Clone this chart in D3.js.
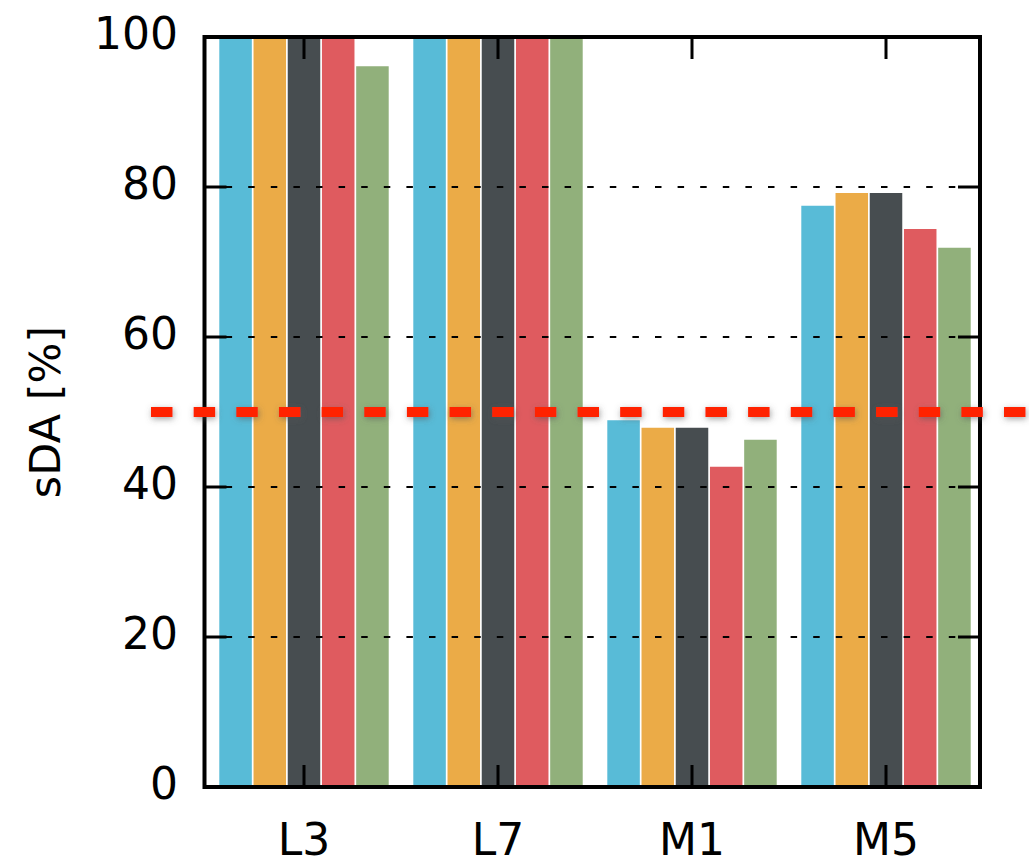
<!DOCTYPE html>
<html>
<head>
<meta charset="utf-8">
<script src="https://cdn.jsdelivr.net/npm/d3@7"></script>
<style>
  html, body { margin: 0; padding: 0; background: #fff; }
  svg { display: block; font-family: "DejaVu Sans", sans-serif; }
</style>
</head>
<body>
<svg id="chart" width="1029" height="863"></svg>
<script>
// Categories, series and values (sDA in percent)
const categories = ["L3", "L7", "M1", "M5"];
const seriesNames = ["s1", "s2", "s3", "s4", "s5"];
const seriesColors = ["#58bbd7", "#ebab47", "#474d50", "#df5b5f", "#91b07b"];
const valuesL3 = [100, 100, 100, 100, 96.1];
const valuesL7 = [100, 100, 100, 100, 100];
const valuesM1 = [48.9, 47.9, 47.9, 42.7, 46.3];
const valuesM5 = [77.5, 79.2, 79.2, 74.4, 71.9];
const yTicks = [0, 20, 40, 60, 80, 100];
const threshold = 50;
const yLabel = "sDA [%]";

const rows = [valuesL3, valuesL7, valuesM1, valuesM5].map((vals, i) => ({
  category: categories[i],
  values: vals.map((v, k) => ({ series: seriesNames[k], value: v, color: seriesColors[k] }))
}));

const svg = d3.select("#chart");
const W = 1029, H = 863;
svg.append("rect").attr("width", W).attr("height", H).attr("fill", "#fff");

// Plot frame
const plot = { left: 204.5, right: 980, top: 37, bottom: 787 };

const y = d3.scaleLinear().domain([0, 100]).range([plot.bottom, plot.top]);
const x0 = d3.scaleBand().domain(categories)
  .range([plot.left + 2.5, plot.right + 3])
  .paddingInner(0.118).paddingOuter(0.059);
const x1 = d3.scaleBand().domain(seriesNames).range([0, x0.bandwidth()]);

// Soft grey shadow for the threshold line (user-space region: the line has no height)
const defs = svg.append("defs");
const shadow = defs.append("filter").attr("id", "glow")
  .attr("filterUnits", "userSpaceOnUse")
  .attr("x", 0).attr("y", 0).attr("width", W).attr("height", H);
shadow.append("feDropShadow")
  .attr("dx", 1).attr("dy", 2).attr("stdDeviation", 3)
  .attr("flood-color", "#555").attr("flood-opacity", 0.55);

// Bars
const gap = 1.7;
const groups = svg.append("g").selectAll("g").data(rows).join("g")
  .attr("transform", d => `translate(${x0(d.category)},0)`);
groups.selectAll("rect").data(d => d.values).join("rect")
  .attr("x", d => x1(d.series) + gap / 2)
  .attr("width", x1.bandwidth() - gap)
  .attr("y", d => y(d.value))
  .attr("height", d => y(0) - y(d.value))
  .attr("fill", d => d.color);

// Dotted grid lines, drawn over the bars
svg.append("g").selectAll("line").data(yTicks.filter(t => t > 0 && t < 100)).join("line")
  .attr("x1", plot.left).attr("x2", plot.right)
  .attr("y1", d => y(d)).attr("y2", d => y(d))
  .attr("stroke", "#000").attr("stroke-width", 2)
  .attr("stroke-dasharray", "6.5,16.1")
  .attr("stroke-dashoffset", 1.5);

// Inward tick marks on all four sides
const tickLen = 22;
const ticks = svg.append("g").attr("stroke", "#000").attr("stroke-width", 3);
yTicks.forEach(t => {
  ticks.append("line").attr("x1", plot.left).attr("x2", plot.left + tickLen)
    .attr("y1", y(t)).attr("y2", y(t));
  ticks.append("line").attr("x1", plot.right).attr("x2", plot.right - tickLen)
    .attr("y1", y(t)).attr("y2", y(t));
});
categories.forEach(c => {
  const cx = x0(c) + x0.bandwidth() / 2;
  ticks.append("line").attr("x1", cx).attr("x2", cx)
    .attr("y1", plot.bottom).attr("y2", plot.bottom - tickLen);
  ticks.append("line").attr("x1", cx).attr("x2", cx)
    .attr("y1", plot.top).attr("y2", plot.top + tickLen);
});

// Frame
svg.append("rect")
  .attr("x", plot.left).attr("y", plot.top)
  .attr("width", plot.right - plot.left).attr("height", plot.bottom - plot.top)
  .attr("fill", "none").attr("stroke", "#000").attr("stroke-width", 4);

// Threshold line at 50 %
svg.append("line")
  .attr("x1", plot.left - 53.5).attr("x2", W + 10)
  .attr("y1", y(threshold)).attr("y2", y(threshold))
  .attr("stroke", "#ff2200").attr("stroke-width", 10)
  .attr("stroke-dasharray", "21.5,21.15")
  .attr("filter", "url(#glow)");

// Y tick labels
svg.append("g").selectAll("text").data(yTicks).join("text")
  .attr("x", 178).attr("y", d => y(d) + 12)
  .attr("text-anchor", "end")
  .attr("font-size", 44).attr("fill", "#000")
  .text(d => d);

// X tick labels
svg.append("g").selectAll("text").data(categories).join("text")
  .attr("x", d => x0(d) + x0.bandwidth() / 2).attr("y", 855)
  .attr("text-anchor", "middle")
  .attr("font-size", 44).attr("fill", "#000")
  .text(d => d);

// Y axis title
svg.append("text")
  .attr("transform", `translate(60,${(plot.top + plot.bottom) / 2}) rotate(-90)`)
  .attr("text-anchor", "middle")
  .attr("font-size", 43).attr("fill", "#000")
  .text(yLabel);
</script>
</body>
</html>
